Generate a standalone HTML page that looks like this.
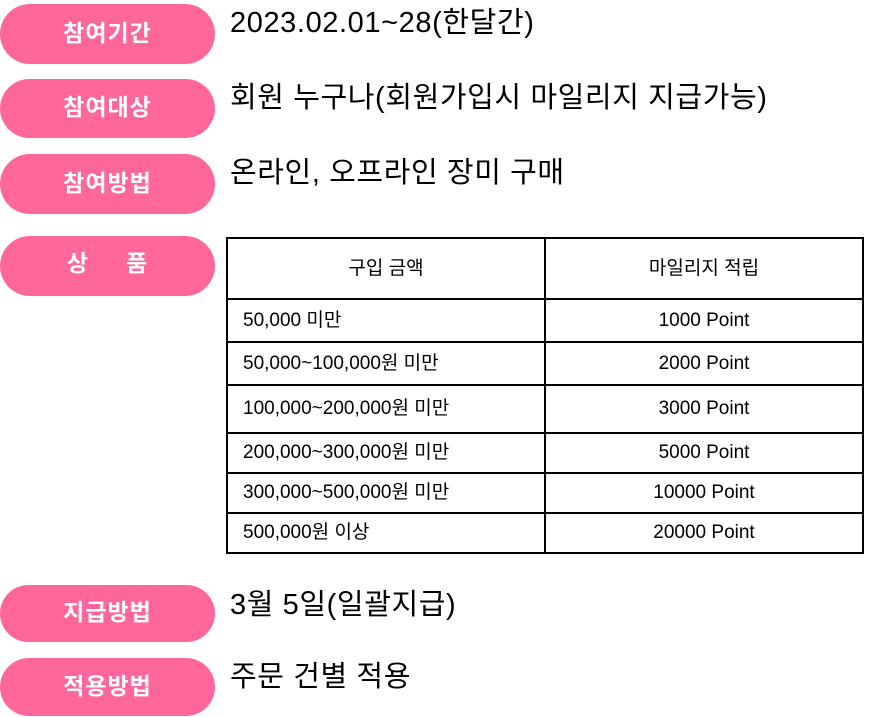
<!DOCTYPE html>
<html><head><meta charset="utf-8"><style>
body{margin:0;width:893px;height:717px;background:#fff;position:relative;overflow:hidden;font-family:"Liberation Sans","Noto Sans CJK KR",sans-serif;}
.p{position:absolute;left:0;width:215px;background:#ff6699;border-radius:30px;color:#fff;font-weight:bold;font-size:23px;letter-spacing:1px;text-align:center;}
.t{position:absolute;left:230px;font-size:29px;letter-spacing:0.6px;color:#000;white-space:nowrap;line-height:36px;}
table{position:absolute;left:226px;top:237px;border-collapse:collapse;font-size:19px;table-layout:fixed;}
td{border:2px solid #000;padding:0;vertical-align:middle;line-height:22px;}
td.l{text-align:left;padding-left:15px;width:301px;}
td.r{text-align:center;width:316px;}
</style></head><body>
<div class="p" style="top:4px;height:60px;line-height:58px">참여기간</div>
<div class="t" style="top:5px">2023.02.01~28(한달간)</div>
<div class="p" style="top:79px;height:59px;line-height:57px">참여대상</div>
<div class="t" style="top:80px">회원 누구나(회원가입시 마일리지 지급가능)</div>
<div class="p" style="top:154px;height:60px;line-height:58px">참여방법</div>
<div class="t" style="top:155px">온라인, 오프라인 장미 구매</div>
<div class="p" style="top:236px;height:60px;line-height:54px">상&nbsp;&nbsp;&nbsp;&nbsp;&nbsp;품</div>
<table>
<tr style="height:61px"><td class="r" style="width:316px">구입 금액</td><td class="r">마일리지 적립</td></tr>
<tr style="height:43px"><td class="l">50,000 미만</td><td class="r">1000 Point</td></tr>
<tr style="height:43px"><td class="l">50,000~100,000원 미만</td><td class="r">2000 Point</td></tr>
<tr style="height:48px"><td class="l">100,000~200,000원 미만</td><td class="r">3000 Point</td></tr>
<tr style="height:40px"><td class="l">200,000~300,000원 미만</td><td class="r">5000 Point</td></tr>
<tr style="height:40px"><td class="l">300,000~500,000원 미만</td><td class="r">10000 Point</td></tr>
<tr style="height:40px"><td class="l">500,000원 이상</td><td class="r">20000 Point</td></tr>
</table>
<div class="p" style="top:585px;height:57px;line-height:55px">지급방법</div>
<div class="t" style="top:587px">3월 5일(일괄지급)</div>
<div class="p" style="top:658px;height:58px;line-height:56px">적용방법</div>
<div class="t" style="top:659px">주문 건별 적용</div>
</body></html>
